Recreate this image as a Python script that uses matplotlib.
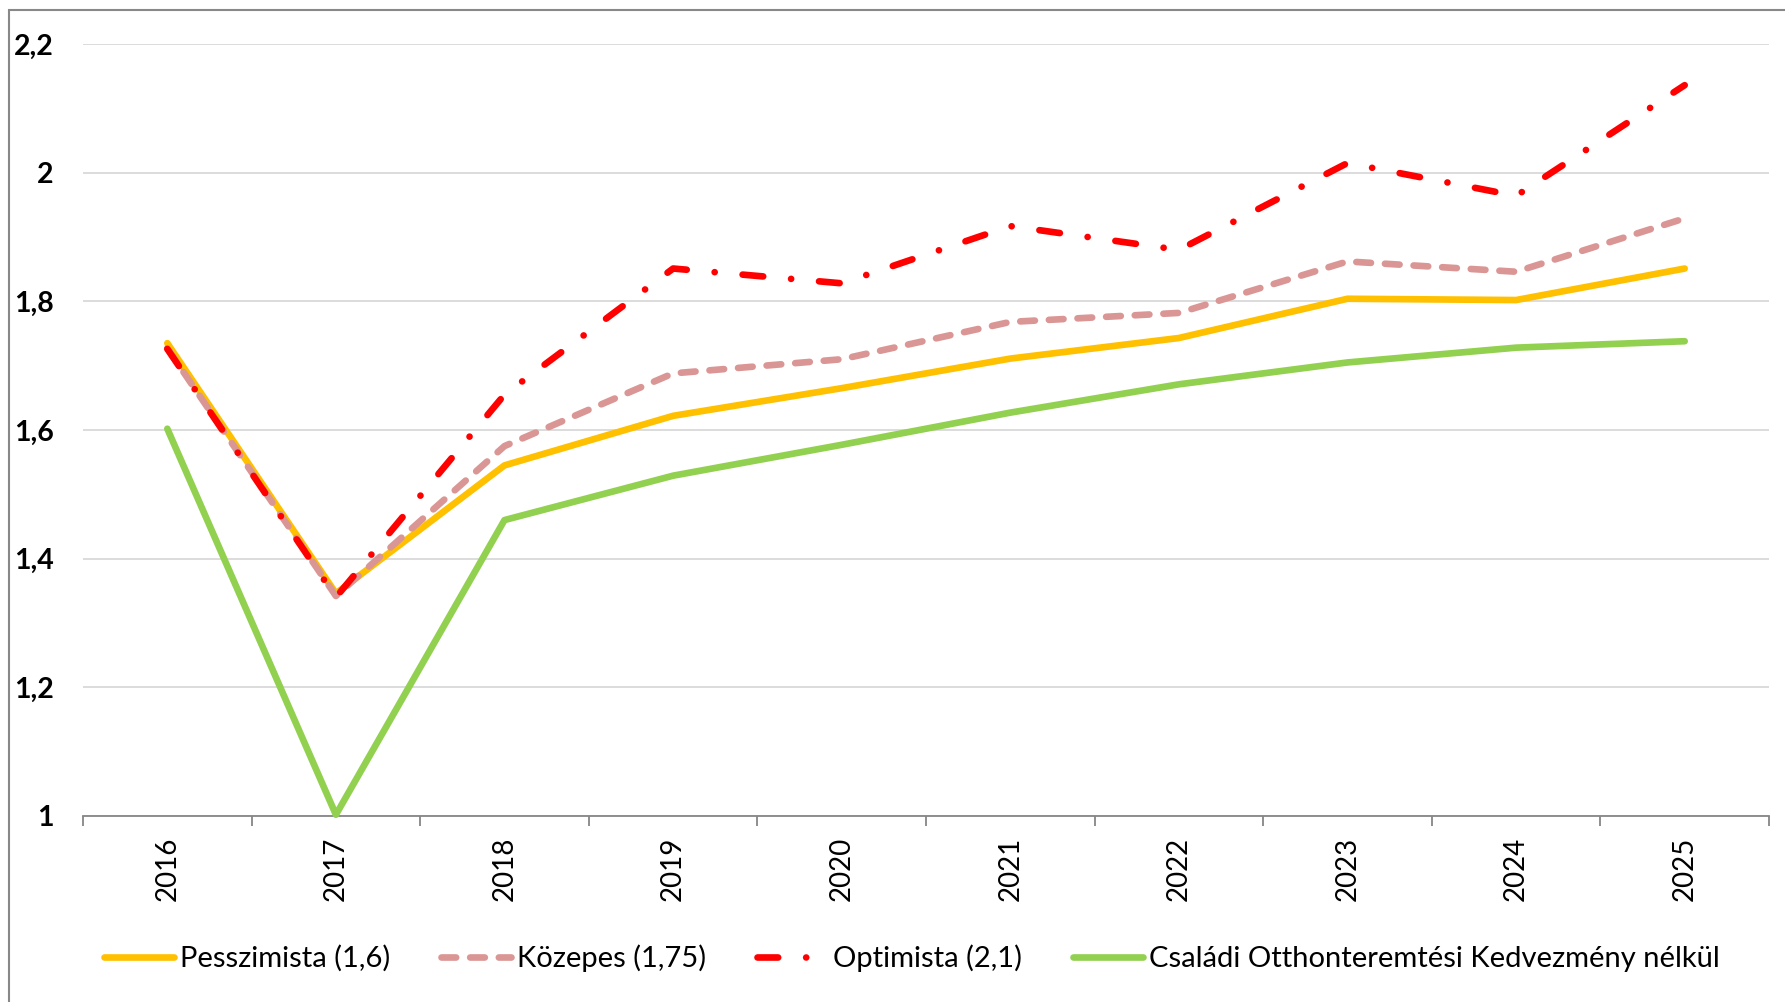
import matplotlib
matplotlib.use("Agg")
import matplotlib.pyplot as plt
from matplotlib.patches import Rectangle
from matplotlib.ticker import FixedLocator

plt.rcParams['font.family'] = ['Lato', 'DejaVu Sans']

# data
years = ['2016', '2017', '2018', '2019', '2020', '2021', '2022', '2023', '2024', '2025']
pesszimista = [1.735, 1.346, 1.545, 1.622, 1.665, 1.711, 1.743, 1.804, 1.802, 1.851]
kozepes = [1.727, 1.342, 1.575, 1.688, 1.710, 1.768, 1.782, 1.862, 1.846, 1.929]
optimista = [1.726, 1.340, 1.655, 1.851, 1.828, 1.917, 1.880, 2.015, 1.964, 2.136]
csok_nelkul = [1.602, 1.002, 1.460, 1.529, 1.577, 1.627, 1.671, 1.705, 1.728, 1.738]
yticks = [1.0, 1.2, 1.4, 1.6, 1.8, 2.0, 2.2]
ytick_labels = ['1', '1,2', '1,4', '1,6', '1,8', '2', '2,2']

W, H = 1785, 1002
fig = plt.figure(figsize=(W / 100, H / 100), dpi=100)
ax = fig.add_axes([83 / W, 1 - 816 / H, (1769 - 83) / W, (816 - 44) / H])

x = range(len(years))
lw = 4.8
ax.plot(x, csok_nelkul, color='#92d050', lw=lw, solid_capstyle='round', clip_on=False,
        label='Családi Otthonteremtési Kedvezmény nélkül', zorder=3)
ax.plot(x, pesszimista, color='#ffc000', lw=lw, solid_capstyle='round', clip_on=False,
        label='Pesszimista (1,6)', zorder=4)
ax.plot(x, kozepes, color='#da9694', lw=lw, dashes=(2.2, 2.1), dash_capstyle='round',
        clip_on=False, label='Közepes (1,75)', zorder=5)
ax.plot(x, optimista, color='#ff0000', lw=lw, dashes=(3.1, 4.2, 0.01, 4.2),
        dash_capstyle='round', clip_on=False, label='Optimista (2,1)', zorder=6)

ax.set_xlim(-0.5, len(years) - 0.5)
ax.set_ylim(1, 2.2)
ax.set_yticks(yticks)
ax.set_yticklabels(ytick_labels, fontsize=20.5, fontweight='bold')
ax.set_xticks(list(x))
ax.set_xticklabels(years, rotation=90, fontsize=20)
ax.xaxis.set_minor_locator(FixedLocator([i - 0.5 for i in range(len(years) + 1)]))
ax.tick_params(axis='x', which='major', length=0, pad=15)
ax.tick_params(axis='x', which='minor', length=7, width=1.3, color='#868686', direction='out')
ax.tick_params(axis='y', length=0, pad=21)
ax.grid(axis='y', color='#d9d9d9', lw=1.3)
ax.set_axisbelow(True)
for s in ['top', 'right', 'left']:
    ax.spines[s].set_visible(False)
ax.spines['bottom'].set_color('#868686')
ax.spines['bottom'].set_linewidth(1.3)
ax.spines['bottom'].set_zorder(2)

handles, labels = ax.get_legend_handles_labels()
order = [1, 2, 3, 0]
fig.legend([handles[i] for i in order], [labels[i] for i in order],
           loc='center', bbox_to_anchor=(0.5107, 1 - 958 / H), ncol=4, frameon=False,
           fontsize=21, handlelength=2.4, handletextpad=0.2, columnspacing=1.75)

# chart frame (cropped on the right and bottom)
fig.patches.append(Rectangle((9 / W, -0.1), 1.2, 1.1 - 10 / H, transform=fig.transFigure,
                             fill=False, edgecolor='#888888', lw=1.5))

fig.savefig('out.png', dpi=100)
